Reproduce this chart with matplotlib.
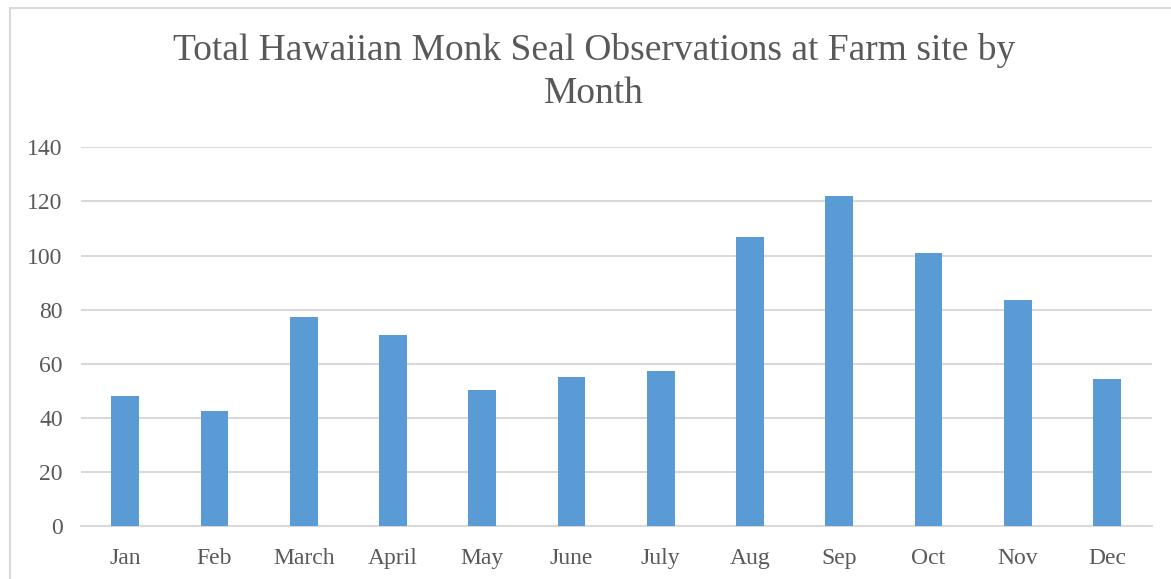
import matplotlib
matplotlib.use("Agg")
import matplotlib.pyplot as plt
from matplotlib.patches import Rectangle

months = ["Jan", "Feb", "March", "April", "May", "June",
          "July", "Aug", "Sep", "Oct", "Nov", "Dec"]
observations = [48.1, 42.5, 77.3, 70.7, 50.3, 55.1,
                57.3, 107.0, 122.0, 100.9, 83.5, 54.3]
y_ticks = [0, 20, 40, 60, 80, 100, 120, 140]

text_color = "#595959"
grid_color = "#d9d9d9"
bar_color = "#5b9bd5"

plt.rcParams["font.family"] = ["Liberation Serif", "DejaVu Serif"]

fig = plt.figure(figsize=(11.71, 5.79), dpi=100)

# outer chart frame
fig.patches.append(Rectangle((10 / 1171, -0.1), 1.2, 1 - 8 / 579 + 0.1,
                             transform=fig.transFigure, fill=False,
                             edgecolor=grid_color, linewidth=1.5))

ax = fig.add_axes([0.0689, 0.0915, 0.9835 - 0.0689, 0.7456 - 0.0915])

x = range(len(months))
ax.bar(x, observations, width=0.31, color=bar_color, zorder=3)

ax.set_xlim(-0.5, len(months) - 0.5)
ax.set_ylim(0, 140)
ax.set_yticks(y_ticks)
ax.set_xticks(list(x))
ax.set_xticklabels(months)

ax.grid(axis="y", color=grid_color, linewidth=1.5, zorder=0)
for side in ["top", "right", "left"]:
    ax.spines[side].set_visible(False)
ax.spines["bottom"].set_color(grid_color)
ax.spines["bottom"].set_linewidth(1.5)

ax.tick_params(axis="both", length=0, colors=text_color, labelsize=17)
ax.tick_params(axis="y", pad=13)
ax.tick_params(axis="x", pad=16)

fig.text(594 / 1171, 1 - 72 / 579, "Total Hawaiian Monk Seal Observations at Farm site by\nMonth",
         ha="center", va="center", fontsize=27, color=text_color, linespacing=1.3)

fig.savefig("out.png", dpi=100)
